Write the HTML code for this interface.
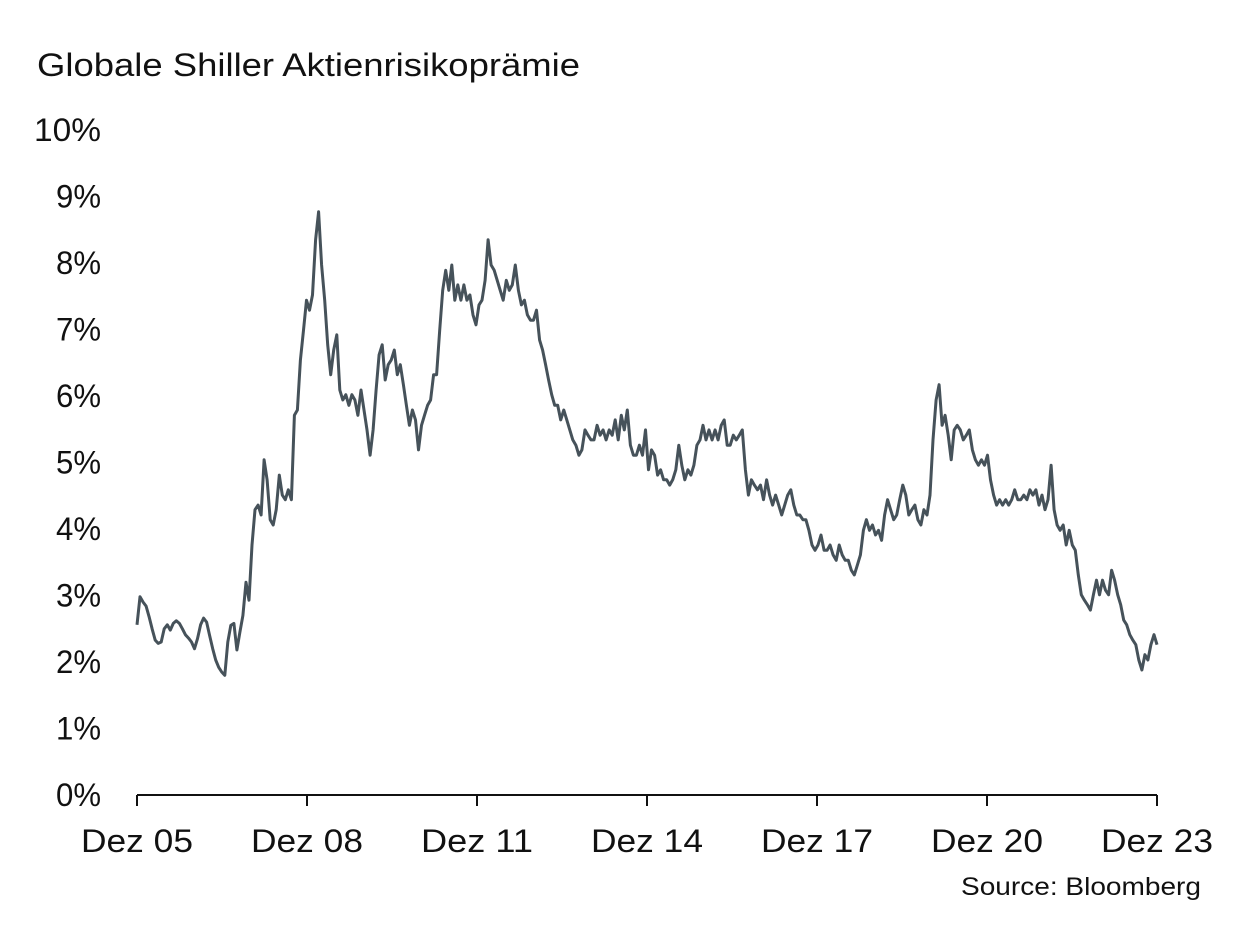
<!DOCTYPE html>
<html><head><meta charset="utf-8"><style>
html,body{margin:0;padding:0;background:#fff;}
svg{display:block;font-family:"Liberation Sans",Arial,sans-serif;}
</style></head><body>
<svg id="chart" width="1249" height="949" viewBox="0 0 1249 949">
<text x="37" y="76" font-size="32" textLength="543" lengthAdjust="spacingAndGlyphs" fill="#111">Globale Shiller Aktienrisikoprämie</text>
<g id="yaxis"></g>
<g id="xaxis"></g>
<path id="line" fill="none" stroke="#46525a" stroke-width="3" stroke-linejoin="round"></path>
<text x="1201" y="895" font-size="25" text-anchor="end" textLength="240" lengthAdjust="spacingAndGlyphs" fill="#111">Source: Bloomberg</text>
</svg>
<script>
const yTicks=[0,1,2,3,4,5,6,7,8,9,10];
const xTickLabels=["Dez 05","Dez 08","Dez 11","Dez 14","Dez 17","Dez 20","Dez 23"];
const xTickYears=[2005.92,2008.92,2011.92,2014.92,2017.92,2020.92,2023.92];
const startYear=2005.92, endYear=2023.92;
const values=[2.56,2.98,2.90,2.84,2.68,2.50,2.33,2.28,2.30,2.50,2.56,2.48,2.58,2.62,2.58,2.50,2.41,2.36,2.30,2.20,2.35,2.56,2.66,2.60,2.40,2.20,2.03,1.92,1.85,1.80,2.30,2.55,2.58,2.18,2.45,2.70,3.20,2.93,
3.76,4.29,4.36,4.21,5.04,4.74,4.14,4.06,4.29,4.81,4.51,4.44,4.59,4.44,5.71,5.79,6.54,6.99,7.44,7.29,7.52,8.35,8.77,7.97,7.44,6.77,6.32,6.69,6.92,6.09,5.94,6.02,5.86,6.02,5.94,5.71,6.09,5.79,5.49,5.11,5.49,6.09,6.62,6.77,6.24,6.47,6.54,6.69,6.32,6.47,6.17,5.86,5.56,5.79,5.64,5.19,5.56,5.71,5.86,5.94,6.32,6.32,6.99,7.59,7.89,7.59,7.97,7.44,7.67,7.44,7.67,7.44,7.52,7.22,7.07,7.37,7.44,7.74,8.35,7.97,7.89,7.74,7.59,7.44,7.74,7.59,7.67,7.97,7.59,7.37,7.44,7.22,7.14,7.14,7.29,6.84,6.69,6.47,6.24,6.02,5.86,5.86,5.64,5.79,5.64,5.49,5.34,5.26,5.11,5.19,5.49,5.41,5.34,5.34,5.56,5.41,5.49,5.34,5.49,5.41,5.64,5.34,5.71,5.49,5.79,5.26,5.11,5.11,5.26,5.11,5.49,4.89,5.19,5.11,4.81,4.89,4.74,4.74,4.66,4.74,4.89,5.26,4.96,4.74,4.89,4.81,4.96,5.26,5.34,5.56,5.34,5.49,5.34,5.49,5.34,5.56,5.64,5.26,5.26,5.41,5.34,5.41,5.49,4.89,4.51,4.74,4.66,4.59,4.66,4.44,4.74,4.51,4.36,4.51,4.36,4.21,4.36,4.51,4.59,4.36,4.21,4.21,4.14,4.14,3.98,3.76,3.68,3.76,3.91,3.68,3.68,3.76,3.61,3.53,3.76,3.61,3.53,3.53,3.38,3.31,3.46,3.61,3.98,4.14,3.98,4.06,3.91,3.98,3.83,4.21,4.44,4.29,4.14,4.21,4.44,4.66,4.51,4.21,4.29,4.36,4.14,4.06,4.29,4.21,4.51,5.34,5.94,6.17,5.56,5.71,5.41,5.04,5.49,5.56,5.49,5.34,5.41,5.49,5.19,5.04,4.96,5.04,4.96,5.11,4.74,4.51,4.36,4.44,4.36,4.44,4.36,4.44,4.59,4.44,4.44,4.51,4.44,4.59,4.51,4.59,4.36,4.51,4.29,4.44,4.96,4.29,4.06,3.98,4.06,3.76,3.98,3.76,3.68,3.31,3.01,2.93,2.86,2.78,3.01,3.23,3.01,3.23,3.08,3.01,3.38,3.23,3.01,2.86,2.63,2.56,2.41,2.33,2.26,2.03,1.88,2.11,2.03,2.26,2.41,2.26];
const NS="http://www.w3.org/2000/svg";
const X0=137,X1=1157,Y0=795,Y1=130;
function xScale(yr){return X0+(yr-startYear)/(endYear-startYear)*(X1-X0);}
function yScale(v){return Y0-v/10*(Y0-Y1);}
const ya=document.getElementById('yaxis');
yTicks.forEach(t=>{
 const tx=document.createElementNS(NS,'text');
 tx.setAttribute('x',101);tx.setAttribute('y',yScale(t)+11);
 tx.setAttribute('text-anchor','end');tx.setAttribute('font-size','32');tx.setAttribute('fill','#111');
 tx.setAttribute('textLength',t===10?67:45);tx.setAttribute('lengthAdjust','spacingAndGlyphs');
 tx.textContent=t+'%';
 
 
 ya.appendChild(tx);
});
const xa=document.getElementById('xaxis');
const base=document.createElementNS(NS,'line');
base.setAttribute('x1',X0);base.setAttribute('x2',X1);base.setAttribute('y1',Y0);base.setAttribute('y2',Y0);
base.setAttribute('stroke','#111');base.setAttribute('stroke-width','2');


xa.appendChild(base);
xTickYears.forEach((yr,i)=>{
 const x=xScale(yr);
 const tk=document.createElementNS(NS,'line');
 tk.setAttribute('x1',x);tk.setAttribute('x2',x);tk.setAttribute('y1',Y0);tk.setAttribute('y2',Y0+11);
 tk.setAttribute('stroke','#111');tk.setAttribute('stroke-width','2');
 
 
 xa.appendChild(tk);
 const tx=document.createElementNS(NS,'text');
 tx.setAttribute('x',x);tx.setAttribute('y',852);tx.setAttribute('text-anchor','middle');
 tx.setAttribute('font-size','32');tx.setAttribute('fill','#111');
 tx.setAttribute('textLength','112');tx.setAttribute('lengthAdjust','spacingAndGlyphs');
 tx.textContent=xTickLabels[i];
 
 
 xa.appendChild(tx);
});
const n=values.length;
let d='';
values.forEach((v,i)=>{
 const yr=startYear+i/(n-1)*(endYear-startYear);
 d+=(i?'L':'M')+xScale(yr).toFixed(1)+','+yScale(v).toFixed(1);
});
document.getElementById('line').setAttribute('d',d);
</script>
</body></html>
